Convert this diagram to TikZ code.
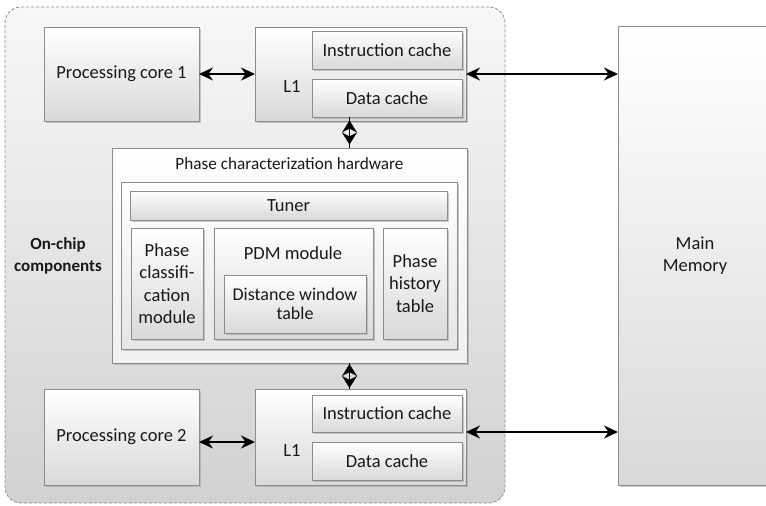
\documentclass[tikz,border=0pt]{standalone}
\usepackage{fontspec}
\setmainfont{Carlito}
\usetikzlibrary{arrows.meta, positioning, shadows, calc}

\begin{document}
\begin{tikzpicture}[x=1pt, y=-1pt, >={Stealth[length=14pt, width=13pt]},
    font=\fontsize{18.5}{22.5}\selectfont,
    every node/.style={inner sep=0pt, outer sep=0pt, align=center, text=black!90},
    block/.style={draw=gray!90, line width=0.8pt, top color=white, bottom color=gray!30,
        drop shadow={shadow xshift=2pt, shadow yshift=-2pt, fill=gray!70, opacity=0.6}, anchor=north west},
    chipframe/.style={draw=gray!90, densely dashed, line width=0.8pt, rounded corners=16pt,
        top color=gray!6, bottom color=gray!36, anchor=north west},
    link/.style={<->, line width=1.8pt},
    bus/.style={{Stealth[length=12pt, width=15pt]}-{Stealth[length=12pt, width=15pt]}, line width=1.8pt}]
    \useasboundingbox (0,0) rectangle (766,506);

    % chip
    \node (chip) at (5,7) [chipframe, minimum width=500pt, minimum height=496pt] {};
    \node (onchip) at (58,256) [font=\fontsize{17}{22}\selectfont\bfseries] {On-chip\\components};

    % core 1 and its L1
    \node (core1) at (44,27) [block, minimum width=155pt, minimum height=94pt] {Processing core 1};
    \node (l1a) at (255,27) [block, minimum width=211pt, minimum height=94pt] {};
    \node (ic1) at (312,31) [block, minimum width=150pt, minimum height=38pt] {Instruction cache};
    \node (dc1) [block, below=10pt of ic1, minimum width=150pt, minimum height=38pt] {Data cache};
    \node (l1atext) at (292,87) {L1};

    % phase characterization hardware
    \node (phw) at (112,148) [block, minimum width=355pt, minimum height=215pt, bottom color=gray!12] {};
    \node (phwtitle) [below=10pt of phw.north, font=\fontsize{17.2}{20}\selectfont] {Phase characterization hardware};
    \node (phwin) at (121,182) [block, minimum width=336pt, minimum height=167pt, bottom color=gray!20] {};
    \node (tuner) at (130,191) [block, minimum width=317pt, minimum height=29pt] {Tuner};
    \node (pcm) at (131,228) [block, minimum width=72pt, minimum height=111pt] {Phase\\classifi-\\cation\\module};
    \node (pdm) at (214,228) [block, minimum width=159pt, minimum height=111pt] {};
    \node (pdmtitle) at (293,253) {PDM module};
    \node (dwt) at (224,275) [block, minimum width=142pt, minimum height=58pt,
        font=\fontsize{18}{19.5}\selectfont] {Distance window\\table};
    \node (pht) at (383,228) [block, minimum width=64pt, minimum height=111pt] {Phase\\history\\table};

    % core 2 and its L1
    \node (core2) at (44,389) [block, minimum width=155pt, minimum height=96pt] {Processing core 2};
    \node (l1b) at (255,389) [block, minimum width=211pt, minimum height=96pt] {};
    \node (ic2) at (312,395) [block, minimum width=150pt, minimum height=37pt] {Instruction cache};
    \node (dc2) [block, below=10pt of ic2, minimum width=150pt, minimum height=38pt] {Data cache};
    \node (l1btext) at (292,451) {L1};

    % memory
    \node (mem) at (618,26) [block, minimum width=154pt, minimum height=459pt] {Main\\Memory};

    % connectors
    \draw[link] (core1) -- (l1a);
    \draw[link] (l1a.east) -- (l1a.east -| mem.west);
    \draw[link] ([yshift=-5pt]core2.east) -- ([yshift=-5pt]core2.east -| l1b.west);
    \draw[link] ([yshift=5pt]l1b.east) -- ([yshift=5pt]l1b.east -| mem.west);

    \coordinate (c1) at ($(dc1.south west)!0.25!(dc1.south east)$);
    \coordinate (c2) at (c1 |- phw.north);
    \coordinate (m1) at ($(c1)!0.5!(c2)$);
    \draw[line width=1.8pt] (c1) -- (c2);
    \draw[bus] ([yshift=12pt]m1) -- ([yshift=-12pt]m1);

    \coordinate (c3) at (c1 |- phw.south);
    \coordinate (c4) at (c1 |- l1b.north);
    \coordinate (m2) at ($(c3)!0.5!(c4)$);
    \draw[line width=1.8pt] (c3) -- (c4);
    \draw[bus] ([yshift=12pt]m2) -- ([yshift=-12pt]m2);
\end{tikzpicture}
\end{document}
